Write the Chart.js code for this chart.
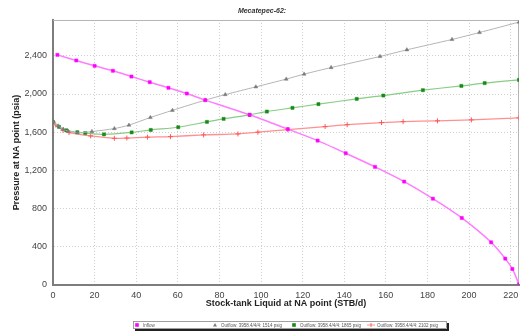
<!DOCTYPE html>
<html>
<head>
<meta charset="utf-8">
<script src="https://cdn.jsdelivr.net/npm/chart.js@4/dist/chart.umd.min.js"></script>
<style>
  html, body { margin: 0; padding: 0; background: #fff; }
  #wrap { width: 524px; height: 333px; position: relative; }
</style>
</head>
<body>
<div id="wrap"><canvas id="nodal" width="524" height="333"></canvas></div>
<script>
// inflow (IPR) curve at the NA point
const inflowRate = [2.1, 11.2, 20.0, 28.8, 37.7, 46.5, 55.5, 64.3, 73.2, 94.5, 112.9, 127.2, 140.7, 154.8, 168.8, 182.6, 196.5, 210.6, 217.4, 220.8, 224];
const inflowPres = [2410, 2351, 2295, 2243, 2183, 2124, 2065, 2005, 1936, 1782, 1632, 1512, 1380, 1237, 1083, 904, 702, 447, 276, 168, 8];

// outflow curves, one per tubing case
const outflowARate = [0, 2.5, 4.9, 7.3, 11.7, 18.7, 29.5, 36.5, 46.8, 57.4, 73.2, 82.8, 97.5, 112.1, 120.7, 133.7, 157.2, 170.1, 191.8, 205, 224];
const outflowAPres = [1708, 1666, 1632, 1611, 1595, 1607, 1638, 1674, 1754, 1829, 1936, 1994, 2075, 2156, 2208, 2277, 2393, 2463, 2571, 2644, 2753];

const outflowBRate = [0, 2.9, 6.4, 11.7, 15.5, 24.5, 37.8, 47, 60.2, 74, 82, 94.5, 102.8, 115.1, 127.6, 146, 158.8, 177.8, 196.3, 207.5, 224];
const outflowBPres = [1708, 1656, 1620, 1600, 1591, 1577, 1598, 1624, 1652, 1708, 1740, 1782, 1816, 1855, 1894, 1949, 1984, 2040, 2085, 2114, 2148];

const outflowCRate = [0, 1.3, 4.8, 7.7, 18.1, 29.5, 35.5, 45.4, 56.5, 72.4, 88.9, 98.5, 112.9, 130.8, 141.4, 157.9, 168.3, 184.8, 201.1, 224];
const outflowCPres = [1708, 1677, 1621, 1596, 1561, 1536, 1539, 1548, 1554, 1572, 1582, 1600, 1628, 1659, 1679, 1701, 1711, 1719, 1729, 1750];

const seriesNames = ['Inflow', 'Outflow: 3958.4/4/4: 1514 psig', 'Outflow: 3958.4/4/4: 1865 psig', 'Outflow: 3958.4/4/4: 2102 psig'];

const xTicks = [0, 20, 40, 60, 80, 100, 120, 140, 160, 180, 200, 220];
const yTicks = [0, 400, 800, 1200, 1600, 2000, 2400];

function toPoints(rates, pres) {
  return rates.map((r, i) => ({ x: r, y: pres[i] }));
}

function makeLine(label, rates, pres, lineColor, markColor, style, radius, width) {
  return {
    label,
    data: toPoints(rates, pres),
    borderColor: lineColor,
    borderWidth: width,
    backgroundColor: markColor,
    pointBorderColor: markColor,
    pointBackgroundColor: markColor,
    pointStyle: style,
    pointRadius: radius,
    pointBorderWidth: style === 'cross' ? 1 : 0.5,
    tension: 0.25,
    showLine: true,
    fill: false
  };
}

// frame + title + boxed legend, drawn straight on the canvas
const decorPlugin = {
  id: 'decor',
  beforeDatasetsDraw(chart) {
    const { ctx, chartArea: a } = chart;
    ctx.save();
    ctx.strokeStyle = '#b5b5b5';
    ctx.lineWidth = 1;
    ctx.beginPath();
    ctx.moveTo(a.left, a.top + 0.5);
    ctx.lineTo(a.right - 0.5, a.top + 0.5);
    ctx.lineTo(a.right - 0.5, a.bottom);
    ctx.stroke();
    ctx.restore();
  },
  afterDraw(chart) {
    const { ctx } = chart;
    ctx.save();
    ctx.fillStyle = '#333';
    ctx.font = 'italic bold 7px "Liberation Sans", Arial, sans-serif';
    ctx.textAlign = 'center';
    ctx.textBaseline = 'middle';
    ctx.fillText('Mecatepec-62:', 262, 11);

    // legend box
    const bx = 133, by = 321, bw = 314, bh = 8;
    ctx.fillStyle = '#222';
    ctx.fillRect(bx + 2, by + 2, bw, bh);
    ctx.fillStyle = '#fff';
    ctx.fillRect(bx, by, bw, bh);
    ctx.strokeStyle = '#888';
    ctx.lineWidth = 0.8;
    ctx.strokeRect(bx + 0.5, by + 0.5, bw - 1, bh - 1);

    const slots = [137, 215, 294, 371];
    ctx.font = '4.5px "Liberation Sans", Arial, sans-serif';
    ctx.textAlign = 'left';
    chart.data.datasets.forEach((ds, i) => {
      const mx = slots[i], my = by + bh / 2;
      ctx.strokeStyle = ds.pointBorderColor;
      ctx.fillStyle = ds.pointBackgroundColor;
      if (ds.pointStyle === 'cross') {
        ctx.strokeStyle = ds.borderColor;
        ctx.lineWidth = 1;
        ctx.beginPath();
        ctx.moveTo(mx - 4, my); ctx.lineTo(mx + 4, my);
        ctx.stroke();
        ctx.strokeStyle = ds.pointBorderColor;
        ctx.beginPath();
        ctx.moveTo(mx, my - 2); ctx.lineTo(mx, my + 2);
        ctx.stroke();
      } else if (ds.pointStyle === 'triangle') {
        ctx.beginPath();
        ctx.moveTo(mx, my - 2); ctx.lineTo(mx + 2, my + 1.5); ctx.lineTo(mx - 2, my + 1.5);
        ctx.closePath();
        ctx.fill();
      } else {
        ctx.fillRect(mx - 1.8, my - 1.8, 3.6, 3.6);
      }
      ctx.fillStyle = '#555';
      ctx.fillText(ds.label, mx + 6, my + 0.3);
    });
    ctx.restore();
  }
};

function keepTicks(list) {
  return scale => {
    scale.ticks = list.map(v => ({ value: v }));
  };
}

new Chart(document.getElementById('nodal'), {
  type: 'scatter',
  data: {
    datasets: [
      makeLine(seriesNames[0], inflowRate, inflowPres, '#ff7cff', '#ff00ff', 'rect', 2.2, 1.5),
      makeLine(seriesNames[1], outflowARate, outflowAPres, '#b4b4b4', '#7a7a7a', 'triangle', 2.2, 1),
      makeLine(seriesNames[2], outflowBRate, outflowBPres, '#88cc88', '#178a17', 'rect', 2.2, 1.2),
      makeLine(seriesNames[3], outflowCRate, outflowCPres, '#ff9090', '#ff5a5a', 'cross', 2.5, 1.3)
    ]
  },
  plugins: [decorPlugin],
  options: {
    responsive: false,
    animation: false,
    devicePixelRatio: 1,
    layout: { padding: { top: 20, right: 2, bottom: 23, left: 0 } },
    plugins: {
      legend: { display: false },
      title: { display: false },
      tooltip: { enabled: false }
    },
    scales: {
      x: {
        type: 'linear',
        min: 0,
        max: 224,
        afterBuildTicks: keepTicks(xTicks),
        afterFit: s => { s.height = 25; },
        grid: { color: '#cfcfcf', lineWidth: 1, drawTicks: false },
        border: { color: '#7d7d7d', width: 2, dash: [1, 2] },
        ticks: {
          padding: 5,
          maxRotation: 0,
          color: '#444',
          font: { family: '"Liberation Sans", Arial, sans-serif', size: 9 }
        },
        title: {
          display: true,
          text: 'Stock-tank Liquid at NA point (STB/d)',
          color: '#222',
          padding: { top: 0, bottom: 1 },
          font: { family: '"Liberation Sans", Arial, sans-serif', size: 9, weight: 'bold' }
        }
      },
      y: {
        type: 'linear',
        min: 0,
        max: 2775,
        afterBuildTicks: keepTicks(yTicks),
        afterFit: s => { s.width = 53; },
        grid: { color: '#cfcfcf', lineWidth: 1, drawTicks: false },
        border: { color: '#7d7d7d', width: 2, dash: [1, 2] },
        ticks: {
          padding: 6,
          color: '#444',
          font: { family: '"Liberation Sans", Arial, sans-serif', size: 9 },
          callback: v => v.toLocaleString('en-US')
        },
        title: {
          display: true,
          text: 'Pressure at NA point (psia)',
          color: '#222',
          padding: { top: 11, bottom: 0 },
          font: { family: '"Liberation Sans", Arial, sans-serif', size: 9, weight: 'bold' }
        }
      }
    }
  }
});
</script>
</body>
</html>
